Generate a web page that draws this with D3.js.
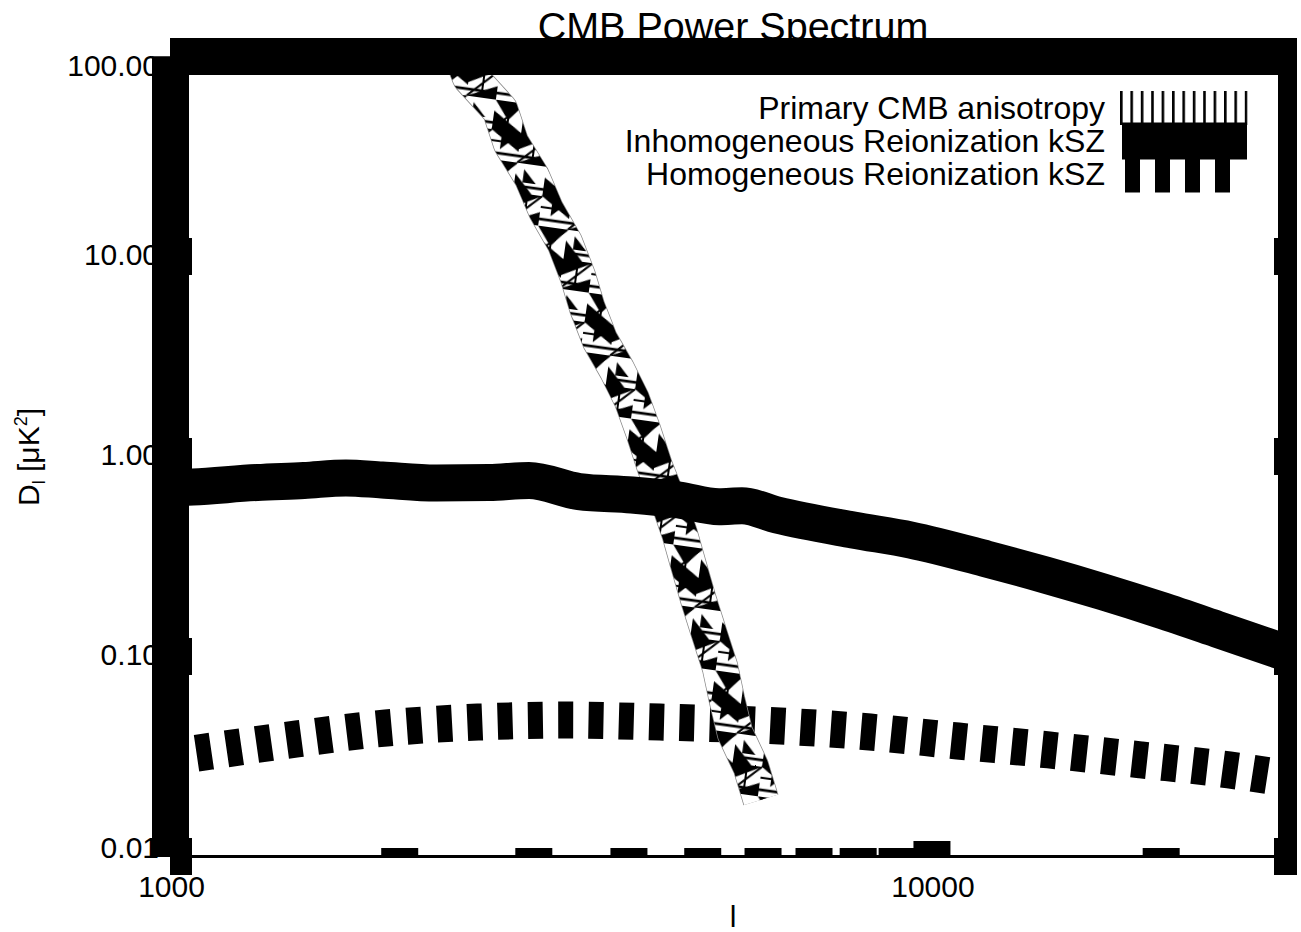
<!DOCTYPE html>
<html>
<head>
<meta charset="utf-8">
<script src="https://cdn.jsdelivr.net/npm/d3@7"></script>
<style>
  html, body { margin: 0; padding: 0; background: #fff; }
  svg { display: block; }
  text { font-family: "Liberation Sans", Arial, Helvetica, sans-serif; fill: #000; }
</style>
</head>
<body>
<svg id="chart" width="1301" height="932"></svg>
<script>
// ---------------- data ----------------
const titleText = "CMB Power Spectrum";
const seriesNames = ["Primary CMB anisotropy", "Inhomogeneous Reionization kSZ", "Homogeneous Reionization kSZ"];

const cmbL = [2363, 2414, 2474, 2709, 2800, 2983, 3112, 3296, 3429, 3524, 3664, 3858, 4036, 4185, 4327, 4502, 4660, 4797, 4937, 5096, 5268, 5381, 5513, 5785, 5962];
const cmbD = [120.9, 100, 78.9, 54.0, 36.9, 24.96, 17.1, 11.68, 7.90, 5.59, 3.82, 2.71, 1.92, 1.31, 0.886, 0.606, 0.414, 0.280, 0.1916, 0.131, 0.0886, 0.0606, 0.0414, 0.0280, 0.0192];

const inhomL = [1000, 1070, 1299, 1497, 1700, 1896, 2233, 2620, 2957, 3440, 4036, 4653, 5253, 5630, 6260, 7876, 9385, 11810, 14070, 16730, 19930, 23680, 28210, 29260];
const inhomD = [0.696, 0.704, 0.741, 0.759, 0.781, 0.763, 0.737, 0.741, 0.759, 0.668, 0.642, 0.606, 0.561, 0.567, 0.510, 0.429, 0.382, 0.307, 0.256, 0.211, 0.171, 0.137, 0.109, 0.104];

const homL = [1000, 1110, 1466, 1919, 2534, 3327, 4393, 6316, 8291, 10818, 14238, 18810, 24550, 29260];
const homD = [0.0314, 0.0333, 0.0387, 0.0439, 0.0470, 0.0481, 0.0470, 0.0449, 0.0419, 0.0378, 0.0341, 0.0304, 0.0271, 0.0245];

const xDomain = [1000, 29260];
const yDomain = [0.01, 100];
const xTicksMajor = [1000, 10000];
const xTickLabels = ["1000", "10000"];
const xTicksMinor = [2000, 3000, 4000, 5000, 6000, 7000, 8000, 9000, 20000];
const yTicks = [0.01, 0.1, 1, 10, 100];
const yTickLabels = ["0.01", "0.10", "1.00", "10.00", "100.00"];
const xLabel = "l";

// ---------------- layout ----------------
const svg = d3.select("#chart");
const L = 170.5, R = 1287, T = 56.5, B = 856.5;
const FW = 37; // frame / stroke thickness

const x = d3.scaleLog().domain(xDomain).range([L, R]);
const y = d3.scaleLog().domain(yDomain).range([B, T]);

const defs = svg.append("defs");
defs.append("clipPath").attr("id", "plotclip")
  .append("rect").attr("x", L).attr("y", T).attr("width", R - L).attr("height", B - T);
defs.append("clipPath").attr("id", "tickclip")
  .append("rect").attr("x", 0).attr("y", T).attr("width", 1301).attr("height", B - T + 0.5);

// triangle texture for the primary CMB band
const pat = defs.append("pattern").attr("id", "tri")
  .attr("patternUnits", "userSpaceOnUse").attr("width", 44).attr("height", 44)
  .attr("patternTransform", "scale(1.35) rotate(8)");
pat.append("rect").attr("width", 44).attr("height", 44).attr("fill", "#fff");
const triPaths = [
  "M0,0 L22,0 L0,12 Z", "M22,0 L44,0 L44,14 Z", "M0,22 L22,12 L22,22 Z",
  "M22,22 L44,22 L33,36 Z", "M0,30 L14,44 L0,44 Z", "M22,30 L44,44 L22,44 Z",
  "M30,4 L40,4 L30,14 Z", "M6,26 L16,36 L6,36 Z"
];
triPaths.forEach(d => pat.append("path").attr("d", d).attr("fill", "#000"));
[["M0,17 H44", 2], ["M0,39 H22", 2], ["M22,0 L0,22", 1.5], ["M44,22 L22,44", 1.5], ["M11,0 V22", 1.5], ["M33,22 V44", 1.5], ["M22,8 H44", 1.5]]
  .forEach(([d, w]) => pat.append("path").attr("d", d).attr("stroke", "#000").attr("stroke-width", w).attr("fill", "none"));

// vertical hatch for legend sample
const vpat = defs.append("pattern").attr("id", "vhatch")
  .attr("patternUnits", "userSpaceOnUse").attr("x", 1120).attr("width", 10.4).attr("height", 10);
vpat.append("rect").attr("width", 10.4).attr("height", 10).attr("fill", "#fff");
vpat.append("rect").attr("x", 0).attr("width", 2.6).attr("height", 10).attr("fill", "#000");

// ---------------- text underneath frame ----------------
svg.append("text").attr("x", 733).attr("y", 40).attr("text-anchor", "middle")
  .attr("font-size", 39.5).text(titleText);

svg.selectAll(".ylab").data(yTicks).enter().append("text")
  .attr("class", "ylab")
  .attr("x", 159)
  .attr("y", d => Math.max(65, Math.min(847, y(d) - 3)) + 11)
  .attr("text-anchor", "end").attr("font-size", 30)
  .text((d, i) => yTickLabels[i]);

svg.selectAll(".xlab").data(xTicksMajor).enter().append("text")
  .attr("class", "xlab")
  .attr("x", d => x(d) + 1).attr("y", 897)
  .attr("text-anchor", "middle").attr("font-size", 30)
  .text((d, i) => xTickLabels[i]);

svg.append("text").attr("x", 733).attr("y", 927).attr("text-anchor", "middle")
  .attr("font-size", 30).text(xLabel);

const yt = svg.append("text").attr("transform", "translate(39,457) rotate(-90)")
  .attr("text-anchor", "middle").attr("font-size", 30);
yt.append("tspan").text("D");
yt.append("tspan").attr("font-size", 18).attr("dy", 6).text("l");
yt.append("tspan").attr("dy", -6).text(" [μK");
yt.append("tspan").attr("font-size", 18).attr("dy", -12).text("2");
yt.append("tspan").attr("dy", 12).text("]");

// ---------------- curves ----------------
const g = svg.append("g").attr("clip-path", "url(#plotclip)");
const lineGen = d3.line().x(d => x(d[0])).y(d => y(d[1]));

const homData = homL.map((l, i) => [l, homD[i]]);
g.append("path").datum(homData)
  .attr("d", lineGen.curve(d3.curveMonotoneX))
  .attr("fill", "none").attr("stroke", "#000").attr("stroke-width", FW)
  .attr("stroke-dasharray", "15,15.3").attr("stroke-dashoffset", 4);

const cmbData = cmbL.map((l, i) => [l, cmbD[i]]);
const cmbLine = d3.line().x(d => x(d[0])).y(d => y(d[1])).curve(d3.curveLinear);
g.append("path").datum(cmbData).attr("d", cmbLine)
  .attr("fill", "none").attr("stroke", "#888").attr("stroke-width", 36.5)
  .attr("stroke-linejoin", "round");
g.append("path").datum(cmbData).attr("d", cmbLine)
  .attr("fill", "none").attr("stroke", "url(#tri)").attr("stroke-width", 35)
  .attr("stroke-linejoin", "round");

const inhomData = inhomL.map((l, i) => [l, inhomD[i]]);
g.append("path").datum(inhomData)
  .attr("d", d3.line().x(d => x(d[0])).y(d => y(d[1])).curve(d3.curveMonotoneX))
  .attr("fill", "none").attr("stroke", "#000").attr("stroke-width", FW)
  .attr("stroke-linejoin", "round");

// ---------------- frame and ticks ----------------
const fr = svg.append("g");
fr.append("rect").attr("x", L).attr("y", B - 1.5).attr("width", R - L).attr("height", 3);
fr.selectAll(".xmin").data(xTicksMinor).enter().append("rect")
  .attr("x", d => x(d) - FW / 2).attr("y", B - 8.5).attr("width", FW).attr("height", 8.5);
fr.selectAll(".xmaj").data(xTicksMajor.filter(d => d > xDomain[0])).enter().append("rect")
  .attr("x", d => x(d) - FW / 2).attr("y", B - 15.5).attr("width", FW).attr("height", 15.5);
fr.append("rect").attr("x", x(xDomain[0]) - 0.5).attr("y", B - 18.5).attr("width", 22).attr("height", 37);
fr.append("rect").attr("x", x(xDomain[1]) - 13).attr("y", B - 18.5).attr("width", 23).attr("height", 37);
fr.append("rect").attr("x", L - FW / 2).attr("y", T).attr("width", FW).attr("height", B - T + 0.5);
fr.append("rect").attr("x", L - 0.5).attr("y", T - FW / 2).attr("width", 1297 - L + 0.5).attr("height", FW);
fr.append("rect").attr("x", R - 9).attr("y", T - FW / 2).attr("width", 19).attr("height", B - 18.5 - (T - FW / 2));
const ytg = fr.append("g").attr("clip-path", "url(#tickclip)");
ytg.selectAll(".yl").data(yTicks).enter().append("rect")
  .attr("x", L - FW / 2).attr("y", d => y(d) - FW / 2).attr("width", 40).attr("height", FW);
ytg.selectAll(".yr").data(yTicks).enter().append("rect")
  .attr("x", R - 13).attr("y", d => y(d) - FW / 2).attr("width", 23).attr("height", FW);

// ---------------- legend ----------------
const legY = [108, 141, 174];
const leg = svg.append("g");
leg.selectAll("text").data(seriesNames).enter().append("text")
  .attr("x", 1105).attr("y", (d, i) => legY[i] + 11)
  .attr("text-anchor", "end").attr("font-size", 32).text(d => d);
const sx0 = 1120, sx1 = 1245;
leg.append("rect").attr("x", sx0).attr("y", legY[0] - 17).attr("width", sx1 - sx0 + 2.6).attr("height", 34)
  .attr("fill", "url(#vhatch)");
leg.append("line").attr("x1", sx0 + 2).attr("x2", sx1 + 2).attr("y1", legY[1]).attr("y2", legY[1])
  .attr("stroke", "#000").attr("stroke-width", FW);
leg.append("line").attr("x1", sx0 + 5).attr("x2", sx1).attr("y1", legY[2]).attr("y2", legY[2])
  .attr("stroke", "#000").attr("stroke-width", FW).attr("stroke-dasharray", "15,15");
</script>
</body>
</html>
